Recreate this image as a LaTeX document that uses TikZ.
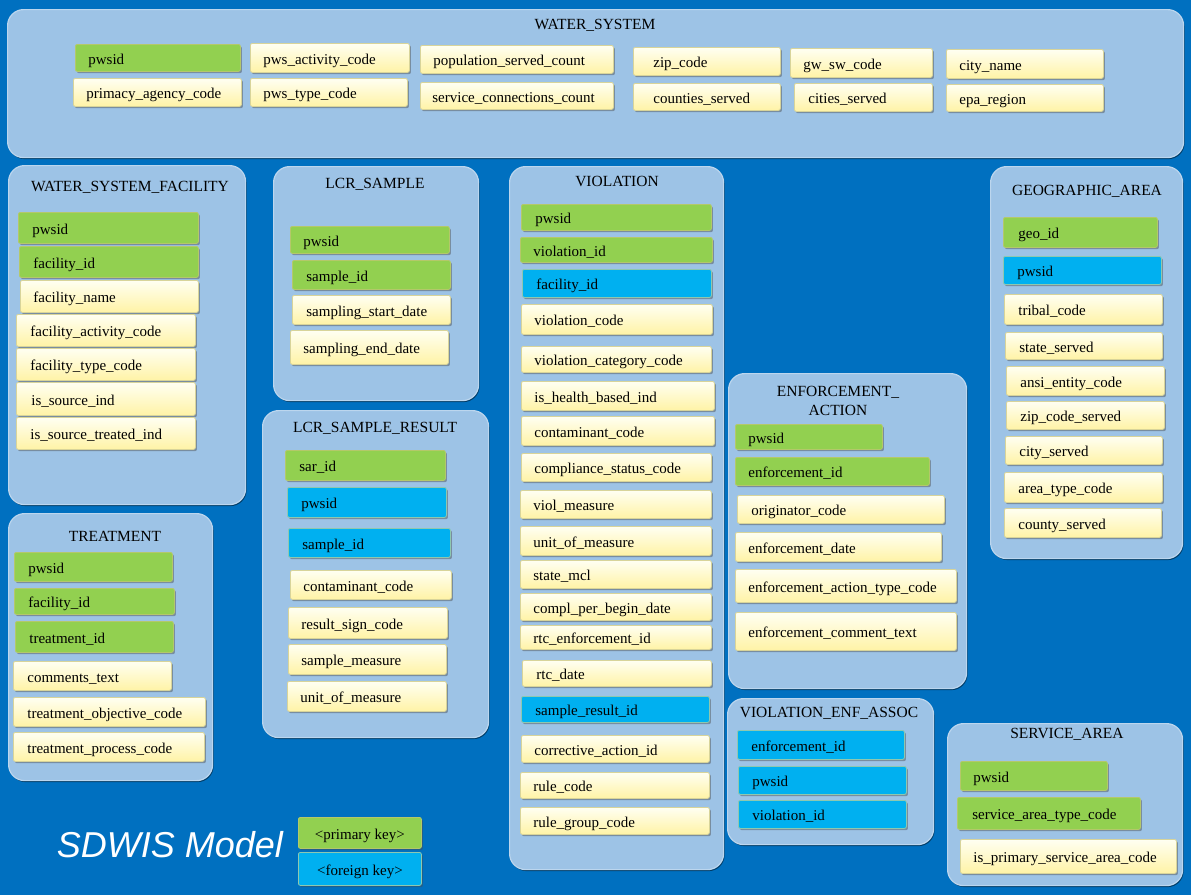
\documentclass[tikz,border=0pt]{standalone}
\usepackage{fontspec}
\setmainfont{Liberation Serif}
\newfontfamily\sdwisfont{Liberation Sans}
\usetikzlibrary{shadows}
\definecolor{bgblue}{HTML}{0070C0}
\definecolor{panelfill}{HTML}{9DC3E6}
\definecolor{paneledge}{HTML}{BCD6EE}
\definecolor{pkgreen}{HTML}{92D050}
\definecolor{pkedge}{HTML}{B4C86A}
\definecolor{fkblue}{HTML}{00B0F0}
\definecolor{fkedge}{HTML}{8DC8B0}
\definecolor{ytop}{HTML}{FFFFF2}
\definecolor{ybot}{HTML}{FFF3A6}
\definecolor{yedge}{HTML}{D8D49A}
\tikzset{
 panel/.style={fill=panelfill, draw=paneledge, line width=1.2pt, rounded corners=16pt,
   drop shadow={shadow xshift=1pt, shadow yshift=-1.5pt, opacity=0.45, fill=black}},
 ptitle/.style={font=\fontsize{15.5}{19}\selectfont, text=black, align=center, inner sep=0pt},
 fieldbase/.style={rounded corners=2pt, line width=0.8pt, inner ysep=0pt,
   text height=14pt, text depth=1pt,
   font=\fontsize{15}{18}\selectfont,
   drop shadow={shadow xshift=1.5pt, shadow yshift=-1.8pt, opacity=0.45, fill=black!70}},
 yfield/.style={fieldbase, draw=yedge, top color=ytop, bottom color=ybot},
 gfield/.style={fieldbase, draw=pkedge, fill=pkgreen},
 bfield/.style={fieldbase, draw=fkedge, fill=fkblue},
}
% name, x1, y1, x2, y2, style, left padding, text
\newcommand{\myfld}[8]{%
 \pgfmathsetmacro{\myfldw}{#4-#2-2*#7}%
 \pgfmathsetmacro{\myfldh}{#5-#3}%
 \node[#6, anchor=north west, inner xsep=#7pt, minimum height=\myfldh pt] (#1) at (#2,#3) {\makebox[\myfldw pt][l]{#8}};%
}
% name, x1, y1, x2, y2
\newcommand{\mypanel}[5]{%
 \pgfmathsetmacro{\mypw}{#4-#2}%
 \pgfmathsetmacro{\myph}{#5-#3}%
 \node[panel, anchor=north west, inner sep=0pt, minimum width=\mypw pt, minimum height=\myph pt] (#1) at (#2,#3) {};%
}
\begin{document}
\begin{tikzpicture}[x=1pt,y=-1pt]
\useasboundingbox (0,0) rectangle (1191,895);
\fill[bgblue] (0,0) rectangle (1191,895);

% WATER_SYSTEM
\mypanel{ws}{7}{9}{1183}{157}
\node[ptitle] (ws-t) at (595,25) {WATER\_SYSTEM};
\myfld{ws-pwsid}{75}{44}{240}{71}{gfield}{13}{pwsid}
\myfld{ws-primacy}{73}{78}{241}{106}{yfield}{13}{primacy\_agency\_code}
\myfld{ws-activity}{250}{43}{409}{72}{yfield}{13}{pws\_activity\_code}
\myfld{ws-type}{250}{78}{407}{106}{yfield}{13}{pws\_type\_code}
\myfld{ws-pop}{420}{45}{613}{73}{yfield}{13}{population\_served\_count}
\myfld{ws-conn}{420}{82}{613}{109}{yfield}{12}{service\_connections\_count}
\myfld{ws-zip}{633}{47}{780}{75}{yfield}{20}{zip\_code}
\myfld{ws-counties}{633}{83}{780}{110}{yfield}{20}{counties\_served}
\myfld{ws-gwsw}{790}{48}{932}{77}{yfield}{13}{gw\_sw\_code}
\myfld{ws-cities}{794}{83}{932}{111}{yfield}{14}{cities\_served}
\myfld{ws-cityname}{946}{49}{1103}{78}{yfield}{13}{city\_name}
\myfld{ws-epa}{946}{84}{1103}{111}{yfield}{13}{epa\_region}

% WATER_SYSTEM_FACILITY
\mypanel{wsf}{8}{165}{245}{504}
\node[ptitle] (wsf-t) at (130,187) {WATER\_SYSTEM\_FACILITY};
\myfld{wsf-pwsid}{18}{212}{198}{243}{gfield}{14}{pwsid}
\myfld{wsf-facid}{19}{246}{198}{277}{gfield}{14}{facility\_id}
\myfld{wsf-name}{20}{280}{198}{312}{yfield}{13}{facility\_name}
\myfld{wsf-act}{16}{314}{195}{346}{yfield}{14}{facility\_activity\_code}
\myfld{wsf-type}{16}{348}{195}{380}{yfield}{14}{facility\_type\_code}
\myfld{wsf-src}{16}{382}{195}{415}{yfield}{15}{is\_source\_ind}
\myfld{wsf-srct}{16}{417}{195}{449}{yfield}{14}{is\_source\_treated\_ind}

% LCR_SAMPLE
\mypanel{lcr}{273}{166}{478}{400}
\node[ptitle] (lcr-t) at (375,184) {LCR\_SAMPLE};
\myfld{lcr-pwsid}{290}{226}{449}{253}{gfield}{13}{pwsid}
\myfld{lcr-sid}{292}{260}{450}{289}{gfield}{14}{sample\_id}
\myfld{lcr-start}{292}{295}{450}{324}{yfield}{14}{sampling\_start\_date}
\myfld{lcr-end}{290}{330}{448}{364}{yfield}{13}{sampling\_end\_date}

% LCR_SAMPLE_RESULT
\mypanel{lsr}{262}{410}{488}{737}
\node[ptitle] (lsr-t) at (375,428) {LCR\_SAMPLE\_RESULT};
\myfld{lsr-sar}{285}{450}{445}{480}{gfield}{14}{sar\_id}
\myfld{lsr-pwsid}{287}{487}{446}{517}{bfield}{14}{pwsid}
\myfld{lsr-sid}{288}{528}{450}{557}{bfield}{14}{sample\_id}
\myfld{lsr-cont}{290}{570}{451}{599}{yfield}{13}{contaminant\_code}
\myfld{lsr-sign}{288}{607}{447}{638}{yfield}{13}{result\_sign\_code}
\myfld{lsr-meas}{288}{644}{446}{674}{yfield}{13}{sample\_measure}
\myfld{lsr-unit}{287}{681}{446}{711}{yfield}{13}{unit\_of\_measure}

% VIOLATION
\mypanel{vio}{509}{166}{723}{869}
\node[ptitle] (vio-t) at (617,181) {VIOLATION};
\myfld{vio-pwsid}{521}{204}{711}{230}{gfield}{14}{pwsid}
\myfld{vio-vid}{520}{237}{712}{262}{gfield}{13}{violation\_id}
\myfld{vio-fid}{522}{269}{711}{297}{bfield}{14}{facility\_id}
\myfld{vio-code}{521}{304}{712}{334}{yfield}{13}{violation\_code}
\myfld{vio-cat}{521}{346}{711}{372}{yfield}{13}{violation\_category\_code}
\myfld{vio-health}{521}{381}{714}{410}{yfield}{13}{is\_health\_based\_ind}
\myfld{vio-cont}{521}{416}{714}{445}{yfield}{13}{contaminant\_code}
\myfld{vio-comp}{521}{453}{711}{481}{yfield}{13}{compliance\_status\_code}
\myfld{vio-meas}{520}{490}{711}{518}{yfield}{13}{viol\_measure}
\myfld{vio-unit}{520}{526}{711}{555}{yfield}{13}{unit\_of\_measure}
\myfld{vio-mcl}{520}{560}{711}{588}{yfield}{13}{state\_mcl}
\myfld{vio-begin}{520}{593}{711}{620}{yfield}{13}{compl\_per\_begin\_date}
\myfld{vio-rtcid}{520}{625}{711}{649}{yfield}{13}{rtc\_enforcement\_id}
\myfld{vio-rtcdate}{522}{660}{711}{686}{yfield}{14}{rtc\_date}
\myfld{vio-srid}{521}{696}{709}{722}{bfield}{14}{sample\_result\_id}
\myfld{vio-corr}{521}{735}{709}{762}{yfield}{13}{corrective\_action\_id}
\myfld{vio-rule}{520}{772}{709}{798}{yfield}{13}{rule\_code}
\myfld{vio-group}{520}{807}{709}{834}{yfield}{13}{rule\_group\_code}

% ENFORCEMENT_ACTION
\mypanel{enf}{728}{373}{966}{688}
\node[ptitle] (enf-t) at (838,400.5) {ENFORCEMENT\_\\ACTION};
\myfld{enf-pwsid}{735}{424}{882}{449}{gfield}{13}{pwsid}
\myfld{enf-eid}{735}{457}{929}{485}{gfield}{13}{enforcement\_id}
\myfld{enf-orig}{737}{495}{944}{523}{yfield}{14}{originator\_code}
\myfld{enf-date}{735}{532}{941}{561}{yfield}{13}{enforcement\_date}
\myfld{enf-type}{735}{569}{956}{602}{yfield}{13}{enforcement\_action\_type\_code}
\myfld{enf-comment}{735}{612}{956}{650}{yfield}{13}{enforcement\_comment\_text}

% GEOGRAPHIC_AREA
\mypanel{geo}{990}{166}{1182}{558}
\node[ptitle] (geo-t) at (1087,191) {GEOGRAPHIC\_AREA};
\myfld{geo-gid}{1003}{217}{1157}{247}{gfield}{15}{geo\_id}
\myfld{geo-pwsid}{1003}{256}{1161}{284}{bfield}{14}{pwsid}
\myfld{geo-tribal}{1004}{294}{1162}{324}{yfield}{14}{tribal\_code}
\myfld{geo-state}{1005}{332}{1162}{359}{yfield}{14}{state\_served}
\myfld{geo-ansi}{1006}{366}{1164}{395}{yfield}{14}{ansi\_entity\_code}
\myfld{geo-zip}{1006}{401}{1164}{429}{yfield}{14}{zip\_code\_served}
\myfld{geo-city}{1005}{436}{1162}{464}{yfield}{14}{city\_served}
\myfld{geo-area}{1004}{472}{1162}{502}{yfield}{14}{area\_type\_code}
\myfld{geo-county}{1004}{508}{1161}{537}{yfield}{14}{county\_served}

% TREATMENT
\mypanel{trt}{8}{513}{212}{780}
\node[ptitle] (trt-t) at (115,536) {TREATMENT};
\myfld{trt-pwsid}{14}{552}{172}{581}{gfield}{14}{pwsid}
\myfld{trt-fid}{14}{588}{174}{614}{gfield}{14}{facility\_id}
\myfld{trt-tid}{15}{621}{173}{652}{gfield}{14}{treatment\_id}
\myfld{trt-comm}{13}{661}{171}{690}{yfield}{14}{comments\_text}
\myfld{trt-obj}{13}{697}{205}{726}{yfield}{14}{treatment\_objective\_code}
\myfld{trt-proc}{13}{732}{204}{761}{yfield}{14}{treatment\_process\_code}

% VIOLATION_ENF_ASSOC
\mypanel{vea}{727}{698}{933}{844}
\node[ptitle] (vea-t) at (829,713) {VIOLATION\_ENF\_ASSOC};
\myfld{vea-eid}{737}{730}{904}{759}{bfield}{14}{enforcement\_id}
\myfld{vea-pwsid}{738}{766}{906}{794}{bfield}{14}{pwsid}
\myfld{vea-vid}{738}{800}{906}{828}{bfield}{14}{violation\_id}

% SERVICE_AREA
\mypanel{sa}{947}{723}{1182}{885}
\node[ptitle] (sa-t) at (1067,734) {SERVICE\_AREA};
\myfld{sa-pwsid}{960}{761}{1107}{790}{gfield}{13}{pwsid}
\myfld{sa-type}{957}{797}{1140}{829}{gfield}{15}{service\_area\_type\_code}
\myfld{sa-prim}{960}{839}{1176}{873}{yfield}{13}{is\_primary\_service\_area\_code}

% Legend
\node[font=\sdwisfont\itshape\fontsize{36}{40}\selectfont, text=white, inner sep=0pt] (sdwis) at (170,845) {SDWIS Model};
\node[gfield, anchor=north west, minimum width=123pt, minimum height=31pt, inner xsep=0pt] (leg-pk) at (298,817) {<primary key>};
\node[bfield, anchor=north west, minimum width=123pt, minimum height=33pt, inner xsep=0pt] (leg-fk) at (298,852) {<foreign key>};
\end{tikzpicture}
\end{document}
